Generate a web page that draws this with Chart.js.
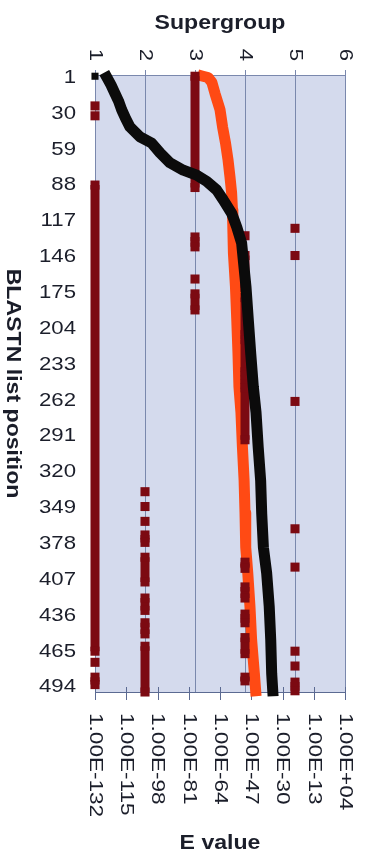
<!DOCTYPE html>
<html>
<head>
<meta charset="utf-8">
<script src="https://cdn.jsdelivr.net/npm/chart.js@4.4.1/dist/chart.umd.min.js"></script>
<style>
  html, body { margin: 0; padding: 0; background: #ffffff; }
  #wrap { width: 367px; height: 856px; position: relative; }
</style>
</head>
<body>
<div id="wrap"><canvas id="chart"></canvas></div>
<script>
// ---- axis ticks ----
const supergroupTicks = [1, 2, 3, 4, 5, 6];
const eValueExponents = [-132, -115, -98, -81, -64, -47, -30, -13, 4];
const positionTicks = [1, 30, 59, 88, 117, 146, 175, 204, 233, 262, 291, 320, 349, 378, 407, 436, 465, 494];

// ---- E value along the BLASTN list (black series) ----
const blackPositions = [1, 2, 8, 15, 21, 28, 35, 42, 50, 55, 63, 71, 77, 81, 86, 93, 101, 112, 123, 136,
  150, 171, 198, 225, 252, 273, 301, 328, 355, 382, 403, 430, 457, 484, 498];
const blackEValues = [1e-132, 3e-126, 5e-124, 8e-122, 6e-120, 3e-118, 4e-116, 1e-113, 3e-108, 6e-102,
  2.5e-97, 6e-92, 1e-84, 2e-77, 6e-72, 1.6e-66, 6e-63, 2.5e-58, 1.3e-55, 6e-53,
  5e-52, 1.3e-50, 2.5e-49, 5e-48, 1.3e-46, 4e-45, 6e-44, 1.3e-42, 5e-42, 4e-41,
  2.5e-39, 6e-38, 4e-37, 1.3e-36, 5e-36];

// ---- E value along the BLASTN list (orange series) ----
const orangePositions = [1, 2, 6, 15, 28, 42, 55, 69, 82, 95, 109, 125, 144, 171, 198, 225, 252, 273,
  301, 328, 354, 382, 403, 430, 457, 484, 498];
const orangeEValues = [6e-74, 3e-71, 4e-69, 2e-67, 1e-64, 2.5e-63, 1e-61, 2.5e-60, 2.5e-59, 2e-58,
  6e-58, 1e-57, 2e-57, 2.5e-56, 1.3e-55, 6e-55, 2e-54, 2.5e-53, 1.6e-52, 1.3e-51,
  4e-51, 1e-50, 1.3e-49, 2e-48, 1.6e-47, 5e-46, 2.5e-45];

// ---- supergroup of each list position, as runs [first, last] ----
const supergroup1Runs = [[25, 25], [33, 33], [89, 466], [475, 475], [487, 493]];
const supergroup2Runs = [[337, 337], [349, 349], [361, 361], [372, 378], [390, 410], [423, 433], [443, 452], [462, 499]];
const supergroup3Runs = [[1, 91], [131, 139], [165, 165], [177, 190]];
const supergroup4Runs = [[130, 130], [146, 172], [180, 210], [214, 240], [243, 250], [253, 295],
  [394, 399], [414, 423], [436, 443], [455, 468], [487, 490]];
const supergroup5Runs = [[124, 124], [146, 146], [264, 264], [367, 367], [398, 398], [466, 466], [478, 478], [491, 498]];

// ---- colours ----
const plotFill = '#d4daed';
const gridColor = '#7a88ad';
const axisColor = '#5b6a92';
const textColor = '#1b1e2a';
const blackColor = '#0b0b0b';
const orangeColor = '#ff4a14';
const maroonColor = '#7c0a12';

// points for a run-encoded supergroup column; null entries break the line between runs
function runPoints(group, runs) {
  const pts = [];
  runs.forEach(([first, last]) => {
    pts.push({ x: group, y: first });
    if (last > first) pts.push({ x: group, y: last });
    pts.push({ x: group, y: null });
  });
  return pts;
}
const supergroupPoints = [].concat(
  runPoints(1, supergroup1Runs),
  runPoints(2, supergroup2Runs),
  runPoints(3, supergroup3Runs),
  runPoints(4, supergroup4Runs),
  runPoints(5, supergroup5Runs)
);
const blackPoints = blackPositions.map((p, i) => ({ x: blackEValues[i], y: p }));
const orangePoints = orangePositions.map((p, i) => ({ x: orangeEValues[i], y: p }));

function eLabel(exp) {
  return '1.00E' + (exp < 0 ? '-' : '+') + String(Math.abs(exp)).padStart(2, '0');
}

function drawText(ctx, text, x, y, o) {
  ctx.save();
  ctx.translate(x, y);
  if (o.rotate) ctx.rotate(o.rotate);
  ctx.scale(o.stretch || 1, 1);
  ctx.font = o.font;
  ctx.fillStyle = textColor;
  ctx.textAlign = o.align || 'center';
  ctx.textBaseline = o.baseline || 'middle';
  ctx.fillText(text, 0, 0);
  ctx.restore();
}

const tickFont = '18.5px "Liberation Sans", Arial, sans-serif';
const titleFont = 'bold 21px "Liberation Sans", Arial, sans-serif';

const chartDecor = {
  id: 'chartDecor',
  beforeDraw(chart) {
    const { ctx, chartArea: a } = chart;
    ctx.save();
    ctx.fillStyle = '#ffffff';
    ctx.fillRect(0, 0, chart.width, chart.height);
    ctx.fillStyle = plotFill;
    ctx.fillRect(a.left, a.top, a.right - a.left, a.bottom - a.top);
    ctx.restore();
  },
  beforeDatasetsDraw(chart) {
    // tick marks crossing the E value axis
    const { ctx, chartArea: a } = chart;
    const sE = chart.scales.xE;
    ctx.save();
    ctx.strokeStyle = axisColor;
    ctx.lineWidth = 1;
    ctx.beginPath();
    sE.ticks.forEach(t => {
      const px = Math.round(sE.getPixelForValue(t.value)) + 0.5;
      ctx.moveTo(px, a.bottom - 5);
      ctx.lineTo(px, a.bottom + 8);
    });
    ctx.stroke();
    ctx.restore();
  },
  afterDraw(chart) {
    const { ctx, chartArea: a } = chart;
    const sy = chart.scales.y, sg = chart.scales.x, sE = chart.scales.xE;
    const midX = (a.left + a.right) / 2;
    const midY = (a.top + a.bottom) / 2;

    // list position labels
    sy.ticks.forEach(t => {
      drawText(ctx, String(t.value), a.left - 19, sy.getPixelForValue(t.value) + 1.5,
        { font: tickFont, align: 'right', stretch: 1.2 });
    });
    // supergroup labels, turned a quarter clockwise
    sg.ticks.forEach(t => {
      drawText(ctx, String(t.value), sg.getPixelForValue(t.value), 55,
        { font: tickFont, rotate: Math.PI / 2, stretch: 1.2 });
    });
    // E value labels, turned a quarter clockwise
    eValueExponents.forEach(exp => {
      drawText(ctx, eLabel(exp), sE.getPixelForValue(Math.pow(10, exp)), a.bottom + 21,
        { font: tickFont, rotate: Math.PI / 2, align: 'left', stretch: 1.22 });
    });
    // axis titles
    drawText(ctx, 'Supergroup', midX, 28.5, { font: titleFont, baseline: 'alphabetic', stretch: 1.1 });
    drawText(ctx, 'E value', midX, 848.5, { font: titleFont, baseline: 'alphabetic', stretch: 1.1 });
    drawText(ctx, 'BLASTN list position', 6.5, midY,
      { font: titleFont, rotate: Math.PI / 2, baseline: 'alphabetic', stretch: 1.1 });
  }
};

new Chart(document.getElementById('chart'), {
  type: 'scatter',
  data: {
    datasets: [
      {
        label: 'E value (black)',
        data: blackPoints,
        xAxisID: 'xE',
        yAxisID: 'y',
        showLine: true,
        borderColor: blackColor,
        backgroundColor: blackColor,
        borderWidth: 11,
        borderCapStyle: 'square',
        borderJoinStyle: 'round',
        tension: 0,
        pointStyle: 'rect',
        pointRadius: c => (c.dataIndex === 0 ? 5 : 0),
        pointBorderWidth: 0,
        segment: { borderColor: c => (c.p0DataIndex === 0 ? 'rgba(0,0,0,0)' : undefined) },
        clip: false
      },
      {
        label: 'Supergroup',
        data: supergroupPoints,
        xAxisID: 'x',
        yAxisID: 'y',
        showLine: true,
        spanGaps: false,
        borderColor: maroonColor,
        backgroundColor: maroonColor,
        borderWidth: 9,
        borderCapStyle: 'butt',
        pointStyle: 'rect',
        pointRadius: 6.4,
        pointBorderWidth: 0,
        clip: false
      },
      {
        label: 'E value (orange)',
        data: orangePoints,
        xAxisID: 'xE',
        yAxisID: 'y',
        showLine: true,
        borderColor: orangeColor,
        backgroundColor: orangeColor,
        borderWidth: 11,
        borderCapStyle: 'square',
        borderJoinStyle: 'round',
        tension: 0,
        pointRadius: 0,
        clip: false
      }
    ]
  },
  options: {
    responsive: true,
    maintainAspectRatio: false,
    devicePixelRatio: 1,
    animation: false,
    events: [],
    layout: { padding: { left: 0, right: 22, top: 0, bottom: 0 } },
    plugins: { legend: { display: false }, tooltip: { enabled: false } },
    scales: {
      x: {
        type: 'linear',
        position: 'top',
        min: 1,
        max: 6,
        afterBuildTicks: s => { s.ticks = supergroupTicks.map(v => ({ value: v })); },
        afterFit: s => { s.height = 75; },
        ticks: { display: false },
        grid: { color: gridColor, lineWidth: 1, drawTicks: true, tickLength: 5, tickColor: gridColor },
        border: { display: true, color: gridColor, width: 1 },
        title: { display: false }
      },
      xE: {
        type: 'logarithmic',
        position: 'bottom',
        min: 1e-132,
        max: 1e4,
        afterBuildTicks: s => { s.ticks = eValueExponents.map(e => ({ value: Math.pow(10, e) })); },
        afterFit: s => { s.height = 164; },
        ticks: { display: false },
        grid: { display: false, drawOnChartArea: false },
        border: { display: true, color: axisColor, width: 1 },
        title: { display: false }
      },
      y: {
        type: 'linear',
        position: 'left',
        reverse: true,
        min: 0,
        max: 499,
        afterBuildTicks: s => { s.ticks = positionTicks.map(v => ({ value: v })); },
        afterFit: s => { s.width = 95; },
        ticks: { display: false },
        grid: { display: false },
        border: { display: true, color: gridColor, width: 1 },
        title: { display: false }
      }
    }
  },
  plugins: [chartDecor]
});
</script>
</body>
</html>
